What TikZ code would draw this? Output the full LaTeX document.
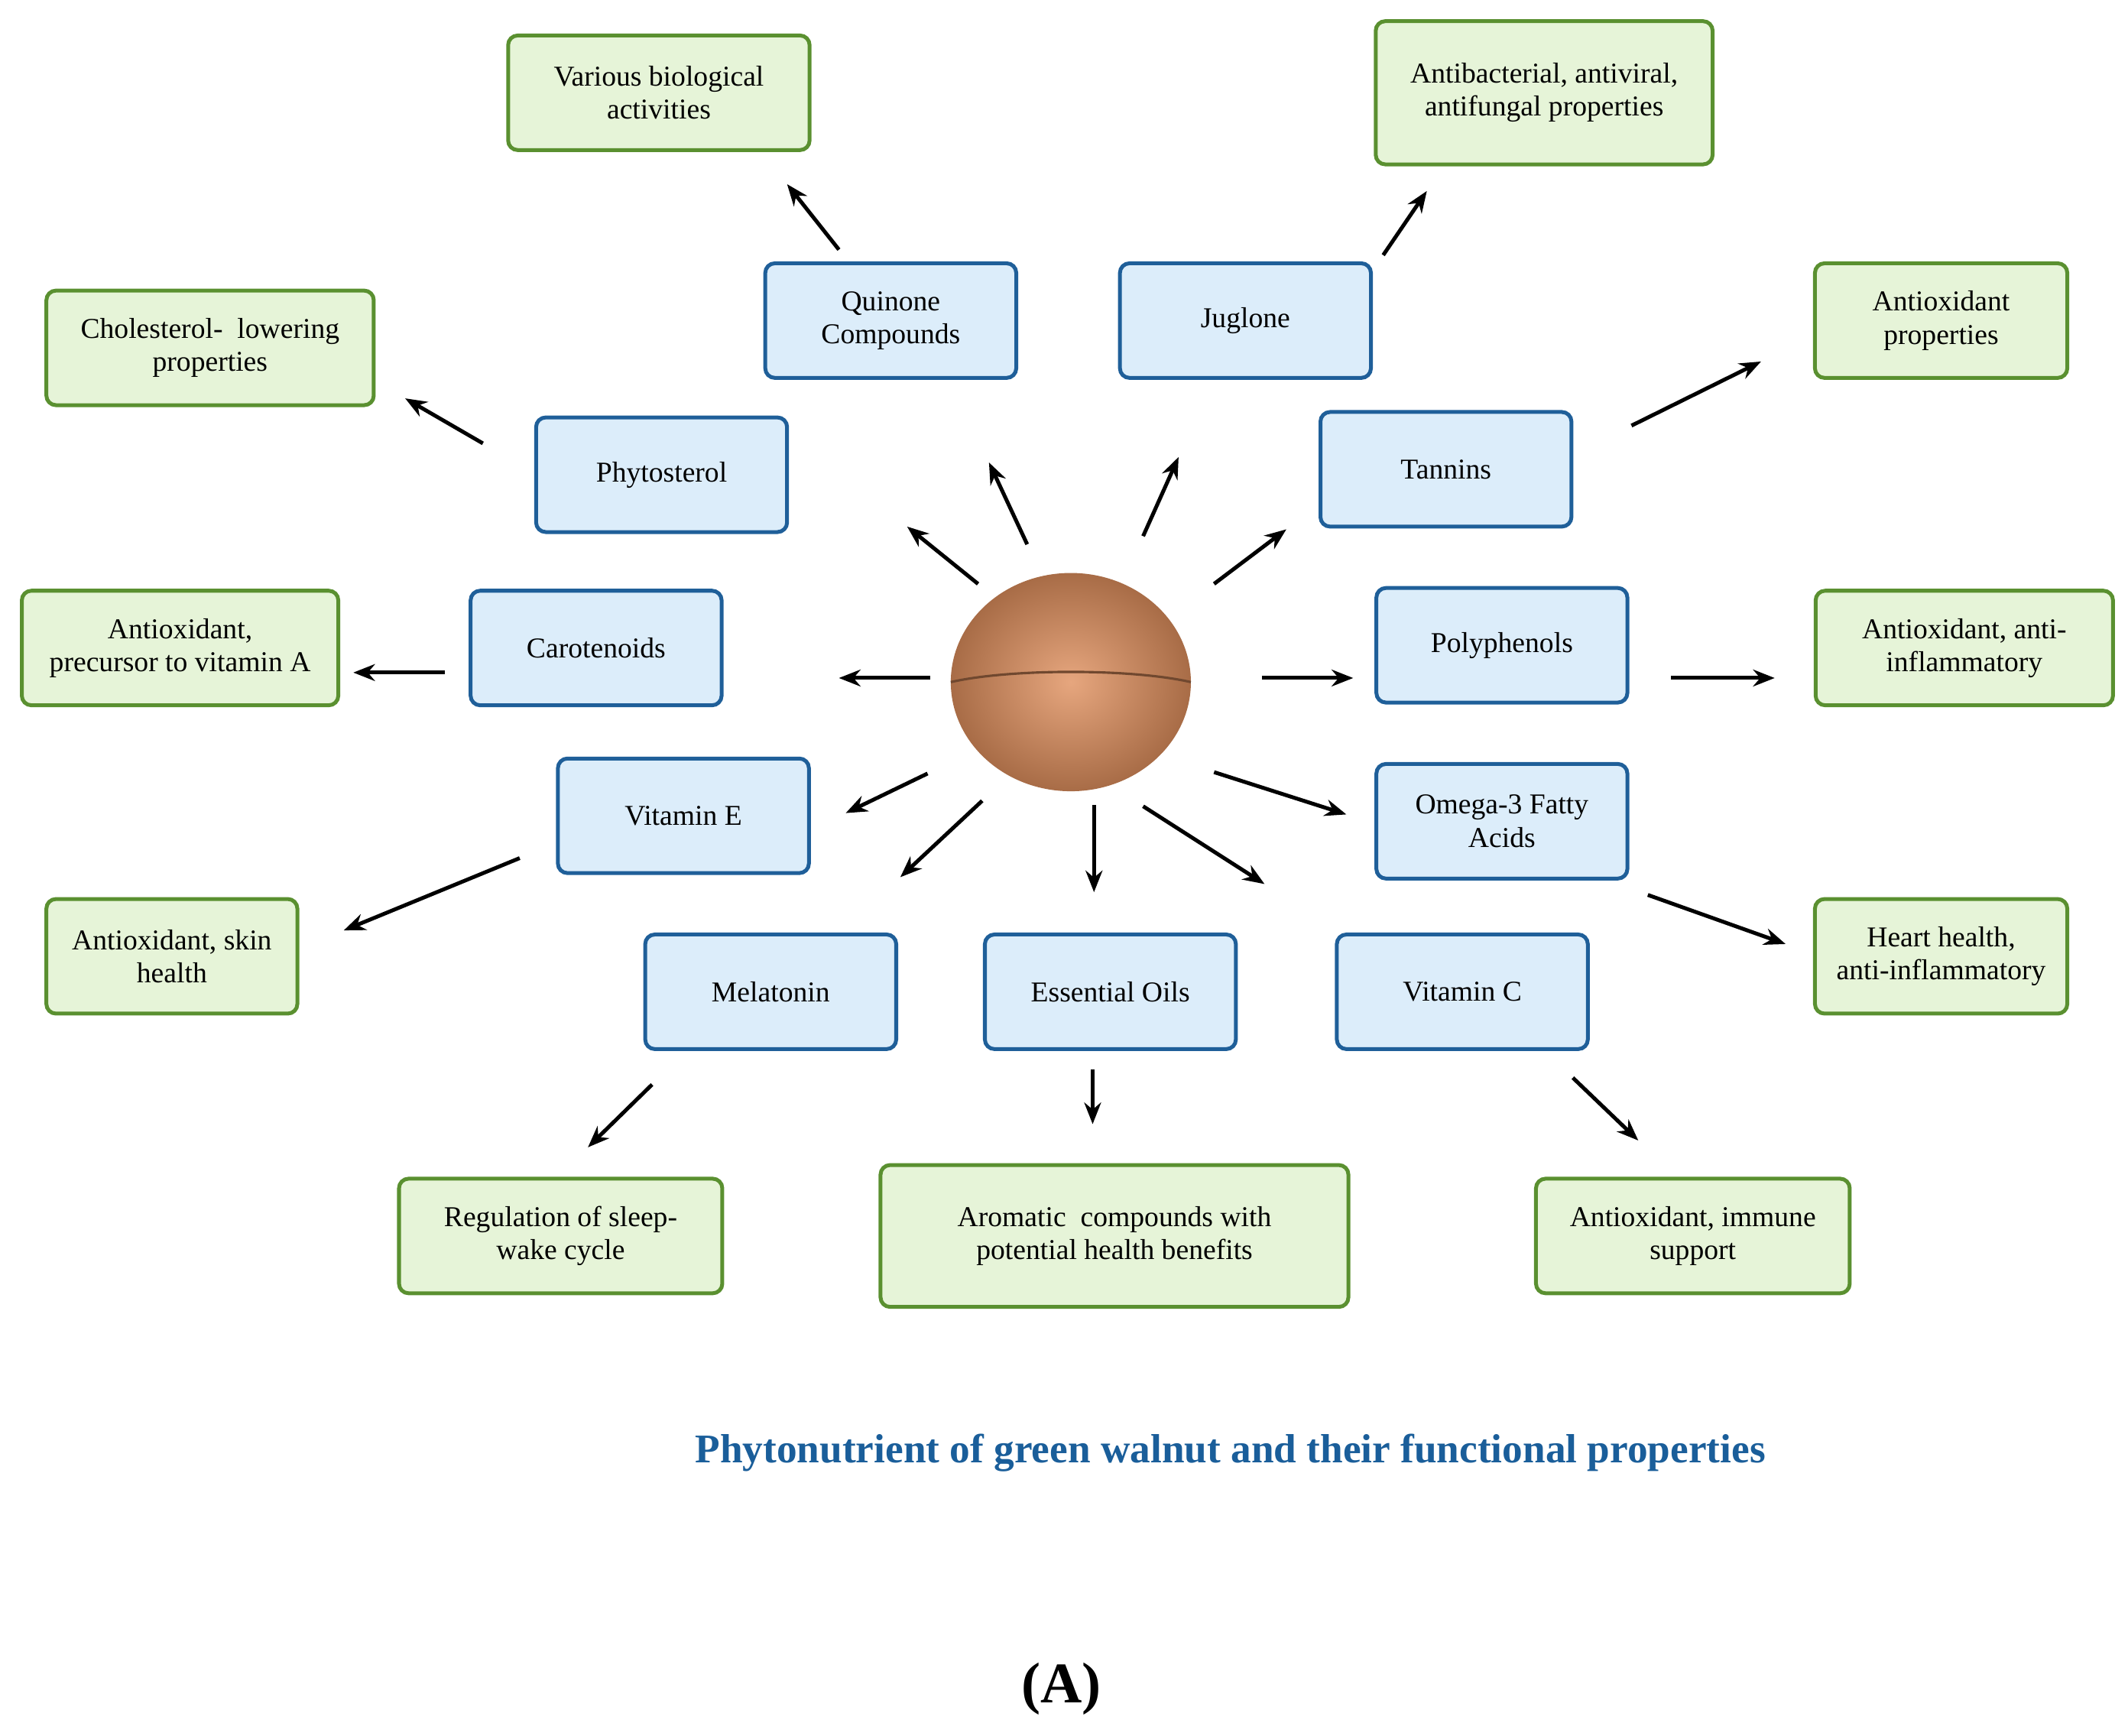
\documentclass[tikz,border=0pt]{standalone}
\usepackage{fontspec}
\setmainfont{Liberation Serif}
\usetikzlibrary{arrows.meta}
\definecolor{blueline}{HTML}{1F5F99}
\definecolor{bluefill}{HTML}{DCEDFA}
\definecolor{greenline}{HTML}{5A9030}
\definecolor{greenfill}{HTML}{E6F4D8}
\definecolor{titleblue}{HTML}{1A5E9A}
\definecolor{nutbrown}{HTML}{E0905E}
\tikzset{
  nutrient/.style={draw=blueline, fill=bluefill, line width=1.6pt, rounded corners=4pt,
    minimum width=184*0.02cm, minimum height=84*0.02cm, align=center,
    font=\fontsize{12}{13.8}\selectfont},
  effect/.style={draw=greenline, fill=greenfill, line width=1.6pt, rounded corners=4pt,
    minimum height=84*0.02cm, align=center, font=\fontsize{12}{13.8}\selectfont},
  arr/.style={-{Stealth[length=9pt,width=7pt]}, line width=1.6pt, black}
}
\begin{document}
\begin{tikzpicture}[x=0.02cm,y=-0.02cm]
\useasboundingbox (0,0) rectangle (1560,1272);

% nutrients
\node[nutrient] (quinone) at (653,235) {Quinone\\Compounds};
\node[nutrient] (juglone) at (913,235) {Juglone};
\node[nutrient] (phyto) at (485,348) {Phytosterol};
\node[nutrient] (tannins) at (1060,344) {Tannins};
\node[nutrient] (carot) at (437,475) {Carotenoids};
\node[nutrient] (poly) at (1101,473) {Polyphenols};
\node[nutrient] (vite) at (501,598) {Vitamin E};
\node[nutrient] (omega) at (1101,602) {Omega-3 Fatty\\Acids};
\node[nutrient] (mela) at (565,727) {Melatonin};
\node[nutrient] (oils) at (814,727) {Essential Oils};
\node[nutrient] (vitc) at (1072,727) {Vitamin C};

% effects
\node[effect, minimum width=221*0.02cm] (bio) at (483,68) {Various biological\\activities};
\node[effect, minimum width=247*0.02cm, minimum height=105*0.02cm] (antibac) at (1132,68) {Antibacterial, antiviral,\\antifungal properties};
\node[effect, minimum width=240*0.02cm] (chol) at (154,255) {Cholesterol-\enspace lowering\\properties};
\node[effect, minimum width=185*0.02cm] (antiprop) at (1423,235) {Antioxidant\\properties};
\node[effect, minimum width=232*0.02cm] (precursor) at (132,475) {Antioxidant,\\precursor to vitamin A};
\node[effect, minimum width=218*0.02cm] (antiinf) at (1440,475) {Antioxidant, anti-\\inflammatory};
\node[effect, minimum width=184*0.02cm] (skin) at (126,701) {Antioxidant, skin\\health};
\node[effect, minimum width=185*0.02cm] (heart) at (1423,701) {Heart health,\\anti-inflammatory};
\node[effect, minimum width=237*0.02cm] (sleep) at (411,906) {Regulation of sleep-\\wake cycle};
\node[effect, minimum width=343*0.02cm, minimum height=104*0.02cm] (aroma) at (817,906) {Aromatic\enspace compounds with\\potential health benefits};
\node[effect, minimum width=230*0.02cm] (immune) at (1241,906) {Antioxidant, immune\\support};

% walnut
\shade[inner color=nutbrown!80!white, outer color=nutbrown!75!black] (785,500) ellipse [x radius=88, y radius=80];
\draw[nutbrown!50!black, line width=1pt] (697,500) .. controls (740,490) and (830,490) .. (873,500);
\node (nut) at (785,500) {};

% arrows
\foreach \xa/\ya/\xb/\yb in {615/183/577/135, 1014/187/1046/140, 354/325/297/292,
  1196/312/1291/265, 717/428/665/386, 753/399/725/339, 838/393/864/335,
  890/428/943/388, 682/497/615/497, 326/493/259/493, 925/497/992/497,
  1225/497/1301/497, 680/567/620/596, 720/587/660/643, 802/590/802/654,
  838/591/927/648, 890/566/987/597, 381/629/252/682, 1208/656/1309/692,
  478/795/431/841, 801/784/801/824, 1153/790/1201/836}
  \draw[arr] (\xa,\ya) -- (\xb,\yb);

\node[font=\bfseries\fontsize{17}{20}\selectfont, text=titleblue] (title) at (902,1065)
  {Phytonutrient of green walnut and their functional properties};
\node[font=\bfseries\fontsize{24}{28}\selectfont] (label) at (778,1238) {(A)};
\end{tikzpicture}
\end{document}
